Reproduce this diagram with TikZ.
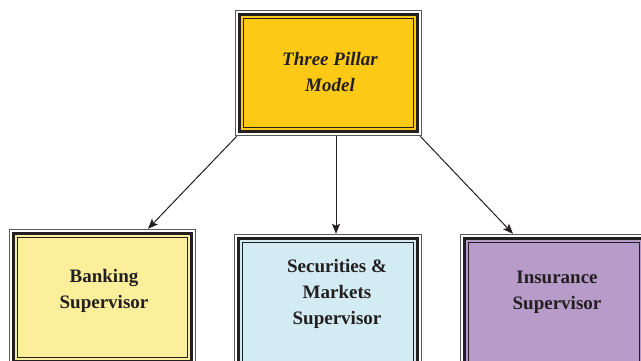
\documentclass[tikz,border=0pt]{standalone}
\usepackage{fontspec}
\setmainfont{Liberation Serif}
\usetikzlibrary{arrows.meta}
\definecolor{gold}{HTML}{FCC917}
\definecolor{bankc}{HTML}{FBEF9B}
\definecolor{secc}{HTML}{D3EBF2}
\definecolor{insc}{HTML}{B79BC9}
\definecolor{ink}{HTML}{231F20}
\begin{document}
\begin{tikzpicture}[x=1pt,y=1pt,
  boxbg/.style={draw=none,inner sep=0pt,minimum width=187pt},
  lbl/.style={font=\fontsize{19}{26}\selectfont\bfseries,align=center,text=ink,inner sep=0pt},
  conn/.style={draw=ink,line width=1pt,-{Stealth[length=10pt,width=8pt,inset=2pt]}}]
\useasboundingbox (0,0) rectangle (641,361);
\clip (0,0) rectangle (641,361);
\fill[white] (0,0) rectangle (641,361);
% boxes (y measured upward: 361 - pixel y)
\node[boxbg,fill=gold,minimum height=126pt] (top) at (328.5,288) {};
\node[boxbg,fill=bankc,minimum height=137pt] (bank) at (102.5,63.5) {};
\node[boxbg,fill=secc,minimum height=137pt] (sec) at (328,58.5) {};
\node[boxbg,fill=insc,minimum height=137pt] (ins) at (554,58.5) {};
\foreach \n in {top,bank,sec,ins}{
  \draw[gray!70!black,line width=1pt] ([xshift=0.5pt,yshift=-0.5pt]\n.north west) rectangle ([xshift=-0.5pt,yshift=0.5pt]\n.south east);
  \draw[white,line width=2pt] ([xshift=2pt,yshift=-2pt]\n.north west) rectangle ([xshift=-2pt,yshift=2pt]\n.south east);
  \draw[ink,line width=3pt] ([xshift=4.5pt,yshift=-4.5pt]\n.north west) rectangle ([xshift=-4.5pt,yshift=4.5pt]\n.south east);
  \draw[ink,line width=1pt] ([xshift=8.5pt,yshift=-8.5pt]\n.north west) rectangle ([xshift=-8.5pt,yshift=8.5pt]\n.south east);
}
% texts
\node[lbl,font=\fontsize{19}{26}\selectfont\bfseries\itshape] (toptxt) at (330,289) {Three Pillar\\Model};
\node[lbl] (banktxt) at (104,70) {Banking\\Supervisor};
\node[lbl] (sectxt) at (337,67) {Securities \&\\Markets\\Supervisor};
\node[lbl] (instxt) at (557,69) {Insurance\\Supervisor};
% connectors
\draw[conn] ([xshift=2pt]top.south west) -- ([xshift=45.5pt]bank.north);
\draw[conn] ([xshift=7.5pt]top.south) -- ([xshift=8pt]sec.north);
\draw[conn] ([xshift=-2pt]top.south east) -- ([xshift=-41pt]ins.north);
\end{tikzpicture}
\end{document}
